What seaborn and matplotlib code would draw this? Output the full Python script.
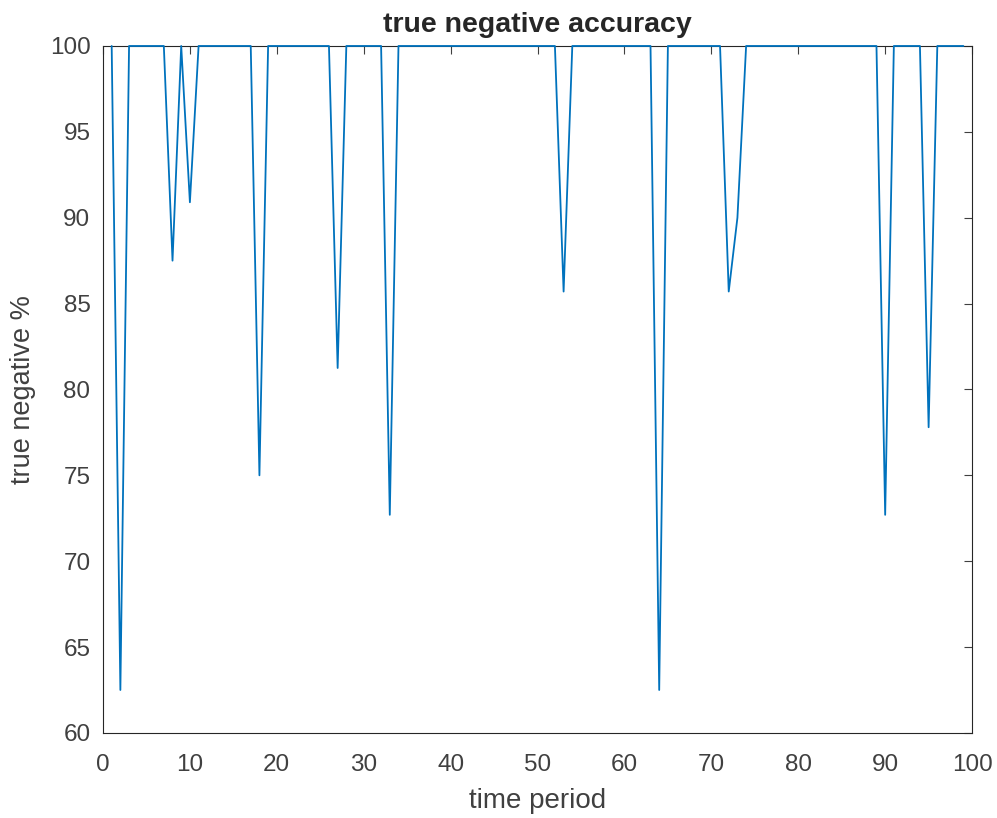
import numpy as np
import pandas as pd
import matplotlib
matplotlib.use("Agg")
import matplotlib.pyplot as plt
import seaborn as sns

# time periods 1..99, accuracy is 100 except at the dips
time_period = list(range(1, 100))
dip_periods = [2, 8, 10, 18, 27, 33, 53, 64, 72, 73, 90, 95]
dip_values = [62.5, 87.5, 90.9, 75.0, 81.25, 72.7, 85.7, 62.5, 85.7, 90.0, 72.7, 77.8]

accuracy = [100.0] * len(time_period)
for p, v in zip(dip_periods, dip_values):
    accuracy[time_period.index(p)] = v

df = pd.DataFrame({"time period": time_period, "true negative %": accuracy})

sns.set_style("white")
plt.rcParams["font.family"] = ["Liberation Sans", "DejaVu Sans"]

fig = plt.figure(figsize=(9.97, 8.18), dpi=100)
ax = fig.add_axes([0.1033, 0.104, 0.8717, 0.8398])

sns.lineplot(data=df, x="time period", y="true negative %", ax=ax,
             color="#0072BD", linewidth=1.3)
for ln in ax.lines:
    ln.set_clip_on(False)
    ln.set_zorder(5)

ax.set_xlim(0, 100)
ax.set_ylim(60, 100)
ax.set_xticks(range(0, 101, 10))
ax.set_yticks(range(60, 101, 5))
ax.tick_params(direction="in", top=True, right=True, length=6, width=0.8,
               labelsize=17.5, colors="#404040", pad=9)
ax.tick_params(axis="x", pad=15)
for s in ax.spines.values():
    s.set_color("#262626")
    s.set_linewidth(0.8)

ax.set_xlabel("time period", fontsize=20, color="#404040", labelpad=9)
ax.set_ylabel("true negative %", fontsize=19.5, color="#404040", labelpad=10)
ax.set_title("true negative accuracy", fontsize=20.5, fontweight="bold", pad=10)

fig.savefig("out.png", dpi=100)
